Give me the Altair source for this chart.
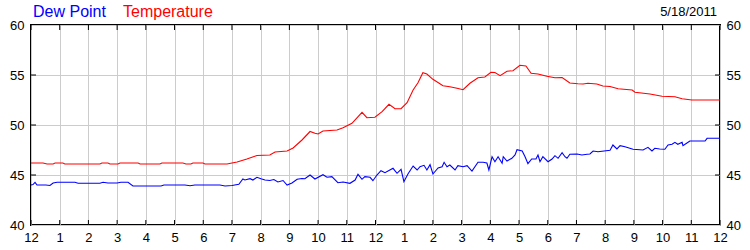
import altair as alt
import pandas as pd

# ---- data (hours after midnight, degrees F) ----
temp_hours = [0.00, 0.42, 0.56, 0.77, 0.84, 1.11, 1.18, 2.40, 2.47, 2.68, 2.75, 3.03, 3.10, 3.73, 3.80,
              4.49, 4.56, 5.29, 5.40, 5.57, 5.64, 5.99, 6.06, 6.83, 7.00, 7.18, 7.52, 7.87, 8.32, 8.50,
              8.92, 9.13, 9.44, 9.72, 9.89, 10.00, 10.17, 10.66, 10.87, 11.18, 11.53, 11.70, 11.98, 12.23,
              12.47, 12.68, 12.89, 13.10, 13.31, 13.48, 13.65, 13.79, 14.00, 14.35, 14.59, 14.84, 15.05,
              15.29, 15.57, 15.81, 16.02, 16.16, 16.34, 16.58, 16.79, 17.03, 17.24, 17.42, 17.66, 17.97,
              18.25, 18.50, 18.77, 19.05, 19.23, 19.40, 19.71, 19.92, 20.17, 20.45, 20.94, 21.04, 21.56,
              21.98, 22.43, 22.68, 23.02, 24.00]
temp_values = [46.2, 46.2, 46.1, 46.1, 46.2, 46.2, 46.1, 46.1, 46.2, 46.2, 46.1, 46.1, 46.2, 46.2, 46.1,
               46.1, 46.2, 46.2, 46.1, 46.1, 46.2, 46.2, 46.1, 46.1, 46.2, 46.3, 46.6, 46.95, 47.0, 47.3,
               47.4, 47.7, 48.5, 49.35, 49.17, 49.1, 49.4, 49.5, 49.73, 50.17, 51.27, 50.73, 50.77, 51.33,
               52.07, 51.63, 51.63, 52.23, 53.5, 54.23, 55.23, 55.1, 54.57, 53.93, 53.83, 53.67, 53.53,
               54.17, 54.73, 54.8, 55.27, 55.25, 54.93, 55.37, 55.43, 55.97, 55.9, 55.17, 55.1, 54.87,
               54.73, 54.75, 54.2, 54.13, 54.1, 54.17, 54.1, 53.9, 53.85, 53.63, 53.5, 53.27, 53.1,
               52.87, 52.83, 52.63, 52.5, 52.5]

dew_hours = [0.00, 0.07, 0.14, 0.21, 0.52, 0.66, 0.77, 0.91, 1.53, 1.64, 2.40, 2.51, 2.68, 3.00, 3.13,
             3.38, 3.55, 4.53, 4.63, 5.36, 5.54, 5.71, 6.58, 6.76, 7.00, 7.24, 7.38, 7.45, 7.63, 7.73,
             7.87, 8.01, 8.15, 8.32, 8.46, 8.60, 8.78, 8.92, 9.09, 9.27, 9.44, 9.54, 9.72, 9.89, 10.17,
             10.31, 10.48, 10.69, 10.87, 11.11, 11.29, 11.39, 11.53, 11.63, 11.81, 11.91, 12.05, 12.19,
             12.33, 12.50, 12.61, 12.75, 12.89, 12.99, 13.13, 13.31, 13.45, 13.55, 13.69, 13.79, 13.90,
             14.00, 14.18, 14.32, 14.39, 14.49, 14.59, 14.77, 14.87, 15.05, 15.19, 15.36, 15.57, 15.75,
             15.88, 15.95, 16.06, 16.16, 16.27, 16.41, 16.45, 16.58, 16.75, 16.86, 16.93, 17.11, 17.21,
             17.31, 17.44, 17.59, 17.66, 17.73, 17.83, 18.01, 18.15, 18.25, 18.36, 18.50, 18.60, 18.67,
             18.77, 19.02, 19.19, 19.37, 19.47, 19.58, 19.75, 20.17, 20.27, 20.41, 20.52, 20.69, 20.97,
             21.32, 21.49, 21.63, 21.73, 21.90, 22.08, 22.19, 22.33, 22.43, 22.53, 22.68, 22.71, 22.85,
             22.95, 23.48, 23.55, 24.00]
dew_values = [44.0, 44.05, 44.27, 44.0, 44.0, 43.95, 44.2, 44.27, 44.27, 44.17, 44.17, 44.27, 44.2, 44.2,
              44.27, 44.27, 43.9, 43.9, 44.0, 44.0, 43.93, 44.0, 44.0, 43.9, 43.95, 44.07, 44.6, 44.5,
              44.63, 44.5, 44.77, 44.63, 44.5, 44.45, 44.55, 44.3, 44.45, 44.0, 44.2, 44.57, 44.65, 44.62,
              45.0, 44.6, 45.03, 44.77, 44.83, 44.23, 44.3, 44.17, 44.5, 45.07, 44.57, 44.83, 44.77, 44.43,
              45.0, 45.43, 45.23, 45.5, 45.67, 45.17, 45.57, 44.33, 45.1, 45.9, 45.5, 45.83, 45.97, 45.5,
              46.03, 45.1, 45.7, 45.83, 46.27, 45.83, 46.0, 45.5, 45.93, 45.83, 45.93, 45.4, 46.27, 46.27,
              46.2, 45.5, 46.83, 46.33, 46.83, 46.17, 46.83, 46.4, 46.67, 47.0, 47.53, 47.4, 46.83, 46.13,
              46.6, 46.6, 47.0, 46.33, 46.83, 46.33, 46.6, 46.93, 46.67, 47.23, 46.83, 46.67, 47.07, 47.1,
              47.0, 47.07, 47.1, 47.4, 47.33, 47.47, 48.0, 47.6, 47.93, 47.83, 47.57, 47.5, 47.77, 47.4,
              47.67, 47.6, 47.57, 48.0, 48.07, 48.27, 48.07, 48.27, 47.93, 48.2, 48.4, 48.4, 48.67, 48.67]

series_names = ["Dew Point", "Temperature"]
series_colors = ["#0000ff", "#ff0000"]
hour_ticks = list(range(25))
value_ticks = [40, 45, 50, 55, 60]
inner_value_ticks = [45, 50, 55]
date_label = "5/18/2011"

FONT = "Liberation Sans"
GRID = "#cccccc"

df = pd.concat([
    pd.DataFrame({"hour": dew_hours, "value": dew_values, "series": series_names[0]}),
    pd.DataFrame({"hour": temp_hours, "value": temp_values, "series": series_names[1]}),
])

x_scale = alt.Scale(domain=[0, 24], nice=False, zero=False)
y_scale = alt.Scale(domain=[40, 60], nice=False, zero=False)

x_enc = alt.X("hour:Q", scale=x_scale,
              axis=alt.Axis(values=hour_ticks,
                            labelExpr="datum.value % 12 == 0 ? '12' : '' + (datum.value % 12)",
                            grid=True, gridColor=GRID, gridWidth=1, ticks=False, domain=False,
                            labelPadding=6, labelFontSize=13, labelFont=FONT, labelColor="black",
                            labelFlush=False, labelOverlap=False, title=None))

lines = alt.Chart(df).mark_line(strokeWidth=1.1, interpolate="linear").encode(
    x=x_enc,
    y=alt.Y("value:Q", scale=y_scale,
            axis=alt.Axis(values=value_ticks, orient="left", grid=True, gridColor=GRID, gridWidth=1,
                          ticks=False, domain=False, labelPadding=7, labelFontSize=13, labelFont=FONT,
                          labelColor="black", labelFlush=False, title=None)),
    color=alt.Color("series:N", scale=alt.Scale(domain=series_names, range=series_colors), legend=None),
    detail="series:N",
)

hours_df = pd.DataFrame({"hour": hour_ticks})
bottom_ticks = alt.Chart(hours_df).mark_rule(color="black", strokeWidth=1).encode(
    x=x_enc, y=alt.value(195), y2=alt.value(200))
top_ticks = alt.Chart(hours_df).mark_rule(color="black", strokeWidth=1).encode(
    x=x_enc, y=alt.value(0), y2=alt.value(5))

vt_df = pd.DataFrame({"value": inner_value_ticks})
left_ticks = alt.Chart(vt_df).mark_rule(color="black", strokeWidth=1).encode(
    y=alt.Y("value:Q", scale=y_scale, axis=None), x=alt.value(0), x2=alt.value(5))
right_ticks = alt.Chart(pd.DataFrame({"value": value_ticks})).mark_rule(color="black", strokeWidth=1).encode(
    y=alt.Y("value:Q", scale=y_scale,
            axis=alt.Axis(values=value_ticks, orient="right", grid=False, ticks=False, domain=False,
                          labelPadding=6, labelFontSize=13, labelFont=FONT, labelColor="black",
                          labelFlush=False, title=None)),
    x=alt.value(684), x2=alt.value(689),
    opacity=alt.condition("datum.value > 40 && datum.value < 60", alt.value(1), alt.value(0)),
)

t1 = alt.Chart(pd.DataFrame({"t": [series_names[0]]})).mark_text(
    font=FONT, fontSize=16, color=series_colors[0], align="left", baseline="alphabetic").encode(
    text="t:N", x=alt.value(2), y=alt.value(-8))
t2 = alt.Chart(pd.DataFrame({"t": [series_names[1]]})).mark_text(
    font=FONT, fontSize=16, color=series_colors[1], align="left", baseline="alphabetic").encode(
    text="t:N", x=alt.value(92), y=alt.value(-8))
t3 = alt.Chart(pd.DataFrame({"t": [date_label]})).mark_text(
    font=FONT, fontSize=13, color="black", align="right", baseline="alphabetic").encode(
    text="t:N", x=alt.value(686), y=alt.value(-9))

chart = alt.layer(lines, bottom_ticks, top_ticks, left_ticks, right_ticks, t1, t2, t3).resolve_scale(
    y="independent"
).properties(
    width=689, height=200,
    padding={"left": 31, "top": 25, "right": 30, "bottom": 25},
    autosize=alt.AutoSizeParams(type="none"),
    background="white",
).configure_view(stroke="black", strokeWidth=2)

chart.save("out.html", embed_options={"renderer": "svg", "actions": False})
